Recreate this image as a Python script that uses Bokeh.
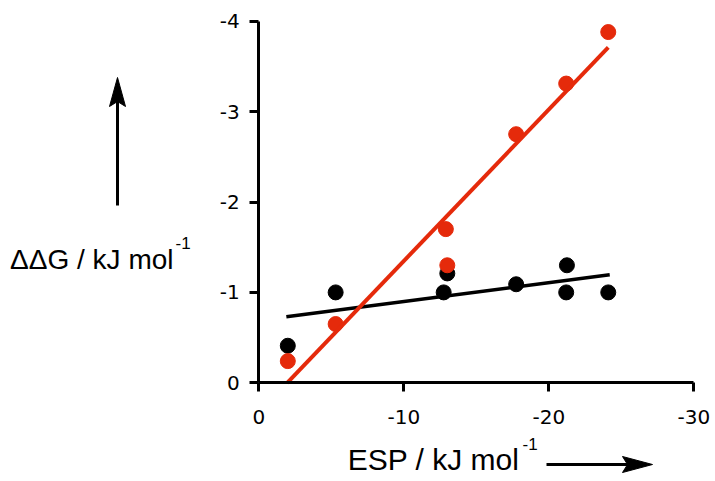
from bokeh.plotting import figure
from bokeh.models import Range1d, FixedTicker
from bokeh.core.properties import value
from bokeh.embed import file_html
from bokeh.resources import INLINE

# ---- data ----
black_x = [-2.0, -5.3, -12.75, -13.0, -17.75, -21.25, -21.2, -24.1]
black_y = [-0.41, -1.0, -1.0, -1.21, -1.09, -1.30, -1.0, -1.0]
red_x = [-2.0, -5.3, -12.9, -13.0, -17.75, -21.2, -24.1]
red_y = [-0.24, -0.65, -1.70, -1.30, -2.75, -3.31, -3.88]
black_fit_x = [-1.9, -24.2]
black_fit_y = [-0.73, -1.195]
red_fit_x = [-1.96, -24.1]
red_fit_y = [0.0, -3.71]
x_ticks = [0, -10, -20, -30]
y_ticks = [0, -1, -2, -3, -4]
x_title = "ESP / kJ mol"
y_title = "\u0394\u0394G / kJ mol"
unit_exp = "-1"

RED = "#e52a0b"
W, H = 713, 480
# layout: pixel position of the data origin and pixels per data unit
X0, XS = 258.3, 14.5
Y0, YS = 382.3, 90.4


def dx(px):
    return -(px - X0) / XS


def dy(py):
    return -(Y0 - py) / YS


p = figure(width=W, height=H, x_range=Range1d(dx(0), dx(W)), y_range=Range1d(dy(H), dy(0)),
           output_backend="svg", toolbar_location=None, title=None,
           min_border=0, min_border_left=0, min_border_right=0,
           min_border_top=0, min_border_bottom=0)
p.grid.visible = False
p.outline_line_color = None
p.background_fill_color = "white"
p.border_fill_color = "white"

for ax, ticks in ((p.xaxis[0], x_ticks), (p.yaxis[0], y_ticks)):
    ax.ticker = FixedTicker(ticks=ticks)
    ax.major_label_overrides = {t: str(t) for t in ticks}
    ax.fixed_location = 0
    ax.bounds = (min(ticks), max(ticks))
    ax.axis_line_width = 3
    ax.axis_line_color = "black"
    ax.major_tick_line_width = 3
    ax.major_tick_line_color = "black"
    ax.major_tick_in = 0
    ax.major_tick_out = 9
    ax.minor_tick_line_color = None
    ax.major_label_text_font = "DejaVu Sans"
    ax.major_label_text_font_size = "20px"
    ax.major_label_text_color = "black"
p.xaxis[0].major_label_standoff = 18
p.yaxis[0].major_label_standoff = 10

p.scatter(black_x, black_y, size=15, color="black")
p.line(black_fit_x, black_fit_y, line_width=3.5, color="black")
p.scatter(red_x, red_y, size=15, color=RED)
p.line(red_fit_x, red_fit_y, line_width=4, color=RED)

FONT = value("Liberation Sans")
# axis titles with superscripts (text glyphs placed in pixel terms)
p.text(x=[dx(519)], y=[dy(459)], text=[x_title], text_align="right",
       text_baseline="alphabetic", text_font=FONT, text_font_size="30px", text_color="black")
p.text(x=[dx(522)], y=[dy(437)], text=[unit_exp], text_align="left",
       text_baseline="top", text_font=FONT, text_font_size="17px", text_color="black")
p.text(x=[dx(173)], y=[dy(259)], text=[y_title], text_align="right",
       text_baseline="alphabetic", text_font=FONT, text_font_size="28px", text_color="black")
p.text(x=[dx(175)], y=[dy(236)], text=[unit_exp], text_align="left",
       text_baseline="top", text_font=FONT, text_font_size="17px", text_color="black")

# direction arrows (decoration): shaft + notched head, given in pixels
# vertical arrow: shaft x=117 from y=205 up to head, tip at y=77
p.segment(x0=[dx(117)], y0=[dy(205)], x1=[dx(117)], y1=[dy(100)], line_width=3, color="black")
p.patch(x=[dx(117), dx(125), dx(117), dx(109)], y=[dy(77), dy(106), dy(101), dy(106)],
        color="black", line_width=1)
# horizontal arrow: from x=546 to tip at x=652
AY = 464
p.segment(x0=[dx(546)], y0=[dy(AY)], x1=[dx(628)], y1=[dy(AY)], line_width=3, color="black")
p.patch(x=[dx(652), dx(622), dx(627), dx(622)], y=[dy(AY), dy(AY - 8), dy(AY), dy(AY + 8)],
        color="black", line_width=1)

open("out.html", "w").write(file_html(p, INLINE))
